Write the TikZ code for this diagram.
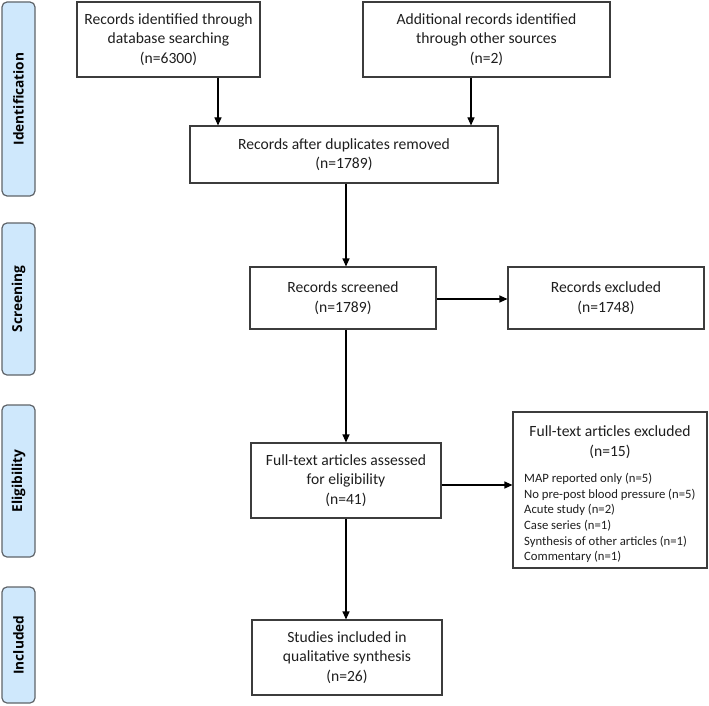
\documentclass[tikz,border=0pt]{standalone}
\usepackage{fontspec}
\setmainfont{Carlito}
\newfontfamily\sidefont{Open Sans}
\usetikzlibrary{arrows.meta}
\definecolor{sidefill}{RGB}{207,232,252}
\definecolor{sidedraw}{RGB}{95,100,105}
\definecolor{boxdraw}{RGB}{60,60,60}
\definecolor{txt}{RGB}{30,30,30}
\tikzset{
  box/.style={draw=boxdraw, line width=1.1pt, inner sep=0pt, align=center, text=txt,
    font=\fontsize{15.6}{19.5}\selectfont},
  side/.style={draw=sidedraw, fill=sidefill, line width=1.2pt, rounded corners=5pt, inner sep=0pt,
    minimum width=33pt},
  sidetext/.style={rotate=90, font=\sidefont\bfseries\fontsize{13.7}{15}\selectfont, text=black},
  arr/.style={draw=black, line width=1.1pt, -{Triangle[length=8pt,width=7pt]}}
}
\begin{document}
\begin{tikzpicture}[x=1pt,y=-1pt]
\useasboundingbox (0,0) rectangle (709,706);
% side labels
\node[side, minimum height=194pt] (sid) at (18.5,99) {};
\node[sidetext] (sidt) at (sid.center) {Identification};
\node[side, minimum height=152pt] (sscr) at (18.5,299) {};
\node[sidetext] (sscrt) at (sscr.center) {Screening};
\node[side, minimum height=152pt] (seli) at (18.5,481) {};
\node[sidetext] (selit) at (seli.center) {Eligibility};
\node[side, minimum height=116pt] (sinc) at (18.5,645) {};
\node[sidetext] (sinct) at (sinc.center) {Included};
% boxes
\node[box, minimum width=183pt, minimum height=75pt] (b1) at (168.5,39.5)
  {Records identified through\\database searching\\(n=6300)};
\node[box, minimum width=247pt, minimum height=75pt] (b2) at (486.5,39.5)
  {Additional records identified\\through other sources\\(n=2)};
\node[box, minimum width=308pt, minimum height=57pt] (b3) at (344,154.5)
  {Records after duplicates removed\\(n=1789)};
\node[box, minimum width=186pt, minimum height=62pt] (b4) at (343,298)
  {Records screened\\(n=1789)};
\node[box, minimum width=196pt, minimum height=62pt] (b5) at (606,298)
  {Records excluded\\(n=1748)};
\node[box, minimum width=190pt, minimum height=75pt] (b6) at (346,480.5)
  {Full-text articles assessed\\for eligibility\\(n=41)};
\node[box, minimum width=194pt, minimum height=156pt] (b7) at (610,490) {};
\node[align=center, text=txt, inner sep=0pt, font=\fontsize{15.6}{19.5}\selectfont] (b7t) at (610,442)
  {Full-text articles excluded\\(n=15)};
\node[align=left, text=txt, inner sep=0pt, anchor=west, font=\fontsize{12.7}{15.6}\selectfont] (b7l) at (524,518)
  {MAP reported only (n=5)\\No pre-post blood pressure (n=5)\\Acute study (n=2)\\Case series (n=1)\\Synthesis of other articles (n=1)\\Commentary (n=1)};
\node[box, minimum width=190pt, minimum height=75pt] (b8) at (347,657.5)
  {Studies included in\\qualitative synthesis\\(n=26)};
% connector guides
\coordinate (ca) at (218,0);
\coordinate (cb) at (471,0);
\coordinate (cc) at (346,0);
\coordinate (cd) at (0,299);
\coordinate (ce) at (0,485);
% connectors
\draw[arr] (b1.south -| ca) -- (b3.north -| ca);
\draw[arr] (b2.south -| cb) -- (b3.north -| cb);
\draw[arr] (b3.south -| cc) -- (b4.north -| cc);
\draw[arr] (b4.east |- cd) -- (b5.west |- cd);
\draw[arr] (b4.south -| cc) -- (b6.north -| cc);
\draw[arr] (b6.east |- ce) -- (b7.west |- ce);
\draw[arr] (b6.south -| cc) -- (b8.north -| cc);
\end{tikzpicture}
\end{document}
